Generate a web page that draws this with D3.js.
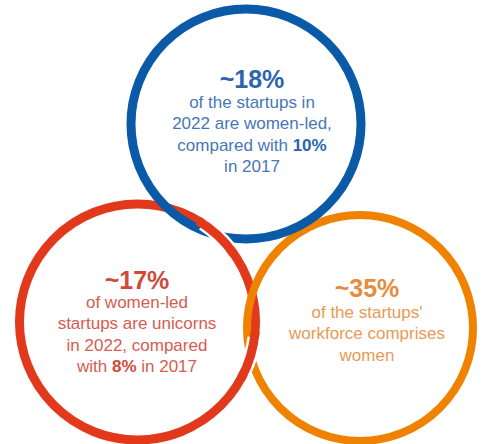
<!DOCTYPE html>
<html><head><meta charset="utf-8">
<script src="https://cdn.jsdelivr.net/npm/d3@7"></script>
<style>html,body{margin:0;padding:0;background:#fff;}svg{display:block;}</style>
</head><body>
<svg id="c" width="481" height="444"></svg>
<script>
// Data
const circleNames = ["women-led", "unicorns", "workforce"];
const headlines = ["~18%", "~17%", "~35%"];
const bodyLines = [
  [["of the startups in"], ["2022 are women-led,"], ["compared with ", "10%"], ["in 2017"]],
  [["of women-led"], ["startups are unicorns"], ["in 2022, compared"], ["with ", "8%", " in 2017"]],
  [["of the startups'"], ["workforce comprises"], ["women"]]
];
const strokeColors = ["#0b5aa7", "#e2391c", "#ef8200"];
const headColors = ["#2b65ae", "#cf4a3a", "#e58d3c"];
const textColors = ["#4677b8", "#d65c50", "#e89a55"];

const svg = d3.select("#c");
// layout (pixel layout, not data)
const layout = [
  {cx: 246, cy: 124, r: 115, sw: 9},
  {cx: 137.5, cy: 322, r: 118, sw: 9},
  {cx: 360, cy: 328, r: 113, sw: 8}
];
const idx = d3.range(circleNames.length);
const order = [1, 2, 0];
const gC = svg.append("g");
gC.selectAll("circle").data(order).join("circle")
  .attr("cx", i => layout[i].cx).attr("cy", i => layout[i].cy).attr("r", i => layout[i].r)
  .attr("fill", "none").attr("stroke", i => strokeColors[i]).attr("stroke-width", i => layout[i].sw);

function intersections(a, b) {
  const dx = b.cx - a.cx, dy = b.cy - a.cy, d = Math.hypot(dx, dy);
  const l = (a.r * a.r - b.r * b.r + d * d) / (2 * d);
  const h = Math.sqrt(a.r * a.r - l * l);
  const mx = a.cx + l * dx / d, my = a.cy + l * dy / d;
  return [[mx + h * dy / d, my - h * dx / d], [mx - h * dy / d, my + h * dx / d]];
}
function overSeg(ia, ib, pick) {
  const a = layout[ia], b = layout[ib];
  const pts = intersections(a, b);
  const p = pick(pts);
  const ang = Math.atan2(p[1] - a.cy, p[0] - a.cx);
  const span = 0.16;
  const path = d3.path();
  path.arc(a.cx, a.cy, a.r, ang - span, ang + span);
  gC.append("path").attr("d", path.toString()).attr("fill", "none")
    .attr("stroke", "#fff").attr("stroke-width", a.sw + 5);
  const path2 = d3.path();
  path2.arc(a.cx, a.cy, a.r, ang - span - 0.05, ang + span + 0.05);
  gC.append("path").attr("d", path2.toString()).attr("fill", "none")
    .attr("stroke", strokeColors[ia]).attr("stroke-width", a.sw);
}
overSeg(1, 0, pts => pts[0][0] > pts[1][0] ? pts[0] : pts[1]);
overSeg(1, 2, pts => pts[0][1] > pts[1][1] ? pts[0] : pts[1]);

// Texts
const textPos = [
  {x: 252, y: 88, y0: 108},
  {x: 137, y: 289, y0: 308},
  {x: 367, y: 297, y0: 318}
];
const font = "'Liberation Sans', Arial, Helvetica, sans-serif";
idx.forEach(i => {
  const g = svg.append("g").attr("font-family", font).attr("text-anchor", "middle");
  g.append("text").attr("x", textPos[i].x).attr("y", textPos[i].y)
    .attr("font-size", 25).attr("font-weight", "bold").attr("fill", headColors[i])
    .text(headlines[i]);
  bodyLines[i].forEach((parts, j) => {
    const t = g.append("text").attr("x", textPos[i].x).attr("y", textPos[i].y0 + j * 21.3)
      .attr("font-size", 17).attr("fill", textColors[i]);
    parts.forEach((s, k) => {
      t.append("tspan").attr("font-weight", /%/.test(s) ? "bold" : null)
        .attr("fill", /%/.test(s) ? headColors[i] : null).text(s);
    });
  });
});
</script>
</body></html>
